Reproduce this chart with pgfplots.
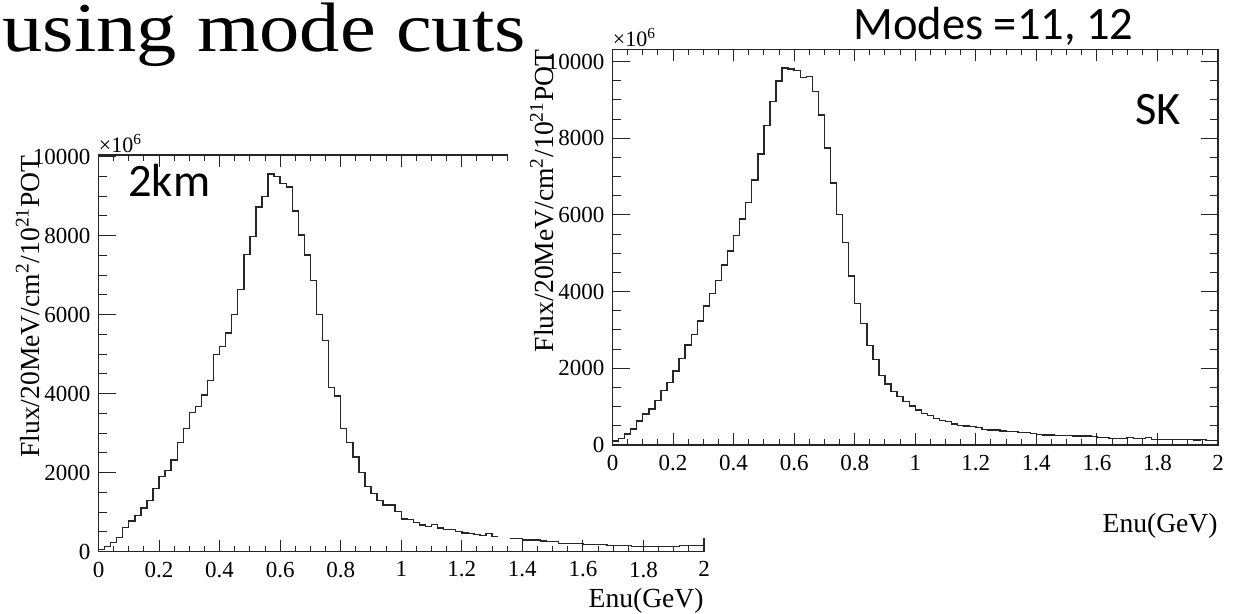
\documentclass[border=0pt]{standalone}
\usepackage{fontspec}
\setmainfont{Liberation Serif}
\newfontfamily\calibri{Carlito}
\usepackage{pgfplots}
\pgfplotsset{compat=1.18}
\usepackage{pgfplotstable}

\pgfplotstableread{
x y
0.00 60
0.02 127
0.04 236
0.06 363
0.08 608
0.10 776
0.12 911
0.14 1106
0.16 1300
0.18 1604
0.20 1899
0.22 2051
0.24 2321
0.26 2760
0.28 3114
0.30 3519
0.32 3671
0.34 3967
0.36 4330
0.38 4990
0.40 5200
0.42 5535
0.44 6005
0.46 6642
0.48 7515
0.50 7975
0.52 8719
0.54 8987
0.56 9562
0.58 9494
0.60 9326
0.62 9225
0.64 8625
0.66 8018
0.68 7511
0.70 6861
0.72 6010
0.74 5342
0.76 4162
0.78 3942
0.80 3124
0.82 2765
0.84 2397
0.86 2005
0.88 1646
0.90 1478
0.92 1300
0.94 1182
0.96 1182
0.98 1013
1.00 825
1.02 820
1.04 734
1.06 675
1.08 640
1.10 684
1.12 600
1.14 567
1.16 560
1.18 506
1.20 470
1.22 464
1.24 430
1.26 405
1.28 460
1.30 385
1.32 385
}\leftA

\pgfplotstableread{
x y
1.36 339
1.38 335
1.40 300
1.42 296
1.44 296
1.46 270
1.48 253
1.50 253
1.52 213
1.54 213
1.56 210
1.58 205
1.60 177
1.62 177
1.64 185
1.66 180
1.68 162
1.70 162
1.72 162
1.74 160
1.76 137
1.78 137
1.80 130
1.82 130
1.84 130
1.86 125
1.88 130
1.90 128
1.92 160
1.94 160
1.96 150
1.98 150
2.00 150
}\leftB

\pgfplotstableread{
x y
0.00 100
0.02 165
0.04 287
0.06 418
0.08 626
0.10 809
0.12 939
0.14 1157
0.16 1418
0.18 1635
0.20 1931
0.22 2261
0.24 2609
0.26 2888
0.28 3236
0.30 3627
0.32 3958
0.34 4288
0.36 4697
0.38 5062
0.40 5462
0.42 5889
0.44 6323
0.46 6915
0.48 7593
0.50 8333
0.52 8959
0.54 9498
0.56 9829
0.58 9803
0.60 9768
0.62 9585
0.64 9611
0.66 9220
0.68 8611
0.70 7741
0.72 6828
0.74 6019
0.76 5280
0.78 4410
0.80 3697
0.82 3175
0.84 2600
0.86 2225
0.88 1805
0.90 1590
0.92 1392
0.94 1261
0.96 1130
0.98 1020
1.00 913
1.02 826
1.04 765
1.06 696
1.08 635
1.10 609
1.12 548
1.14 513
1.16 496
1.18 490
1.20 452
1.22 409
1.24 395
1.26 388
1.28 365
1.30 350
1.32 345
1.34 322
1.36 318
1.38 304
1.40 278
1.42 263
1.44 258
1.46 252
1.48 246
1.50 240
1.52 236
1.54 233
1.56 230
1.58 217
1.60 202
1.62 198
1.64 176
1.66 174
1.68 172
1.70 191
1.72 166
1.74 163
1.76 200
1.78 150
1.80 148
1.82 147
1.84 150
1.86 146
1.88 148
1.90 145
1.92 130
1.94 150
1.96 118
1.98 113
2.00 113
}\rightH

\pgfplotsset{
  rootstyle/.style={
    scale only axis, anchor=south west, clip=false,
    xmin=0, xmax=2, ymin=0,
    xtick={0,0.2,0.4,0.6,0.8,1,1.2,1.4,1.6,1.8,2},
    ytick={0,2000,4000,6000,8000,10000},
    minor x tick num=3, minor y tick num=3,
    tick align=inside, tick pos=both,
    xtick style={/pgfplots/major tick length=6pt,/pgfplots/minor tick length=3pt},
    ytick style={/pgfplots/major tick length=8.5pt,/pgfplots/minor tick length=4.2pt},
    tick style={line width=0.5pt, black!85},
    axis line style={line width=0.6pt, black!85},
    scaled ticks=false,
    /pgf/number format/assume math mode=true,
    /pgf/number format/1000 sep={},
    ticklabel style={font=\fontsize{11.5}{13}\selectfont},
    xticklabel style={yshift=-1.5pt},
    yticklabel style={xshift=-0.5pt},
  },
  histo/.style={const plot, line width=0.7pt, black!85, no marks},
}

\begin{document}
\begin{tikzpicture}
\path[use as bounding box] (0,0) rectangle (616.5pt,307pt);

% left plot (2km)
\begin{axis}[rootstyle, at={(49.25pt,31.15pt)}, width=302.75pt, height=198.35pt, ymax=10040]
\addplot[histo] table[x=x,y=y] {\leftA};
\addplot[histo] table[x=x,y=y] {\leftB};
\node[rotate=90, anchor=base east, inner sep=0pt, font=\fontsize{13.8}{16}\selectfont]
  at ([xshift=-29.7pt]rel axis cs:0,1) {Flux/20MeV/cm\textsuperscript{2}/10\textsuperscript{21}POT};
\node[anchor=base east, inner sep=0pt, font=\fontsize{13.8}{16}\selectfont]
  at ([yshift=-27.7pt]rel axis cs:1,0) {Enu(GeV)};
\node[anchor=south west, inner sep=0pt, font=\fontsize{11}{13}\selectfont]
  at ([yshift=1pt]rel axis cs:0,1) {×10\textsuperscript{6}};
\end{axis}

\fill[white] (254pt,38pt) rectangle (616.5pt,307pt);

% right plot (SK)
\begin{axis}[rootstyle, at={(306.25pt,84.5pt)}, width=302.75pt, height=197.85pt, ymax=10320]
\addplot[histo] table[x=x,y=y] {\rightH};
\node[rotate=90, anchor=base east, inner sep=0pt, font=\fontsize{13.8}{16}\selectfont]
  at ([xshift=-29.6pt]rel axis cs:0,1) {Flux/20MeV/cm\textsuperscript{2}/10\textsuperscript{21}POT};
\node[anchor=base east, inner sep=0pt, font=\fontsize{13.8}{16}\selectfont]
  at ([yshift=-44pt]rel axis cs:1,0) {Enu(GeV)};
\node[anchor=south west, inner sep=0pt, font=\fontsize{11}{13}\selectfont]
  at ([yshift=1pt]rel axis cs:0,1) {×10\textsuperscript{6}};
\end{axis}

\node[anchor=base west, inner sep=0pt, xscale=1.15, font=\fontsize{35}{38}\selectfont] at (1pt,281pt) {using mode cuts};
\node[anchor=base west, inner sep=0pt, font=\calibri\fontsize{23.25}{26}\selectfont] at (426.5pt,287pt) {Modes =11, 12};
\node[anchor=base west, inner sep=0pt, font=\calibri\fontsize{23.25}{26}\selectfont] at (567.5pt,244.5pt) {SK};
\node[anchor=base west, inner sep=0pt, font=\calibri\fontsize{23.25}{26}\selectfont] at (64pt,208.5pt) {2km};
\end{tikzpicture}
\end{document}
